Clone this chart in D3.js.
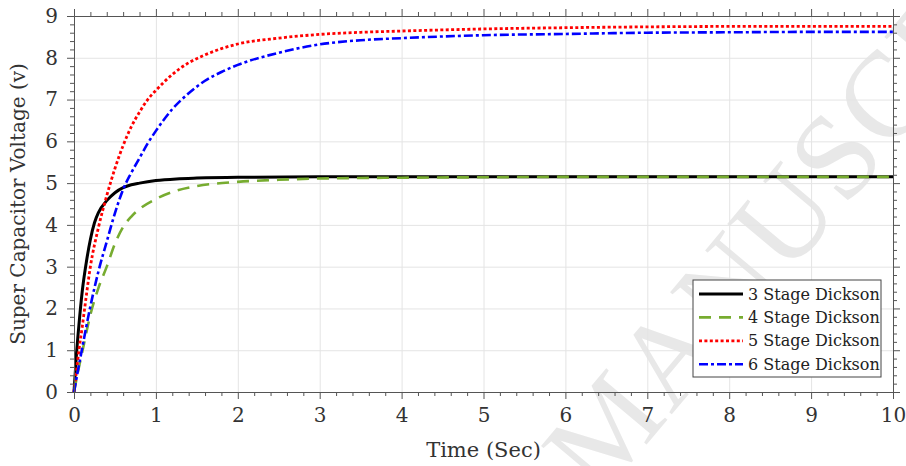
<!DOCTYPE html>
<html>
<head>
<meta charset="utf-8">
<script src="https://cdn.jsdelivr.net/npm/d3@7"></script>
<style>
  body { margin: 0; background: #fff; }
  svg text { font-family: "DejaVu Serif", serif; fill: #333; }
  .axis path { stroke: #555; }
  .axis line { stroke: #555; }
  .grid line { stroke: #e4e4e4; }
  .grid path { display: none; }
</style>
</head>
<body>
<svg class="chart"></svg>
<script>
var seriesNames = ['3 Stage Dickson', '4 Stage Dickson', '5 Stage Dickson', '6 Stage Dickson'];

var t3 = [0, 0.03, 0.06, 0.1, 0.15, 0.2, 0.25, 0.3, 0.4, 0.5, 0.6, 0.7, 0.8, 1.0, 1.25, 1.5, 2, 3, 4, 5, 6, 7, 8, 9, 10];
var v3 = [0, 0.9, 1.6, 2.4, 3.1, 3.65, 4.05, 4.3, 4.58, 4.77, 4.89, 4.96, 5.0, 5.06, 5.1, 5.12, 5.14, 5.15, 5.15, 5.15, 5.15, 5.15, 5.15, 5.15, 5.15];

var t4 = [0, 0.05, 0.1, 0.2, 0.3, 0.4, 0.5, 0.6, 0.7, 0.8, 1.0, 1.25, 1.5, 2, 2.5, 3, 4, 5, 6, 7, 8, 9, 10];
var v4 = [0, 0.5, 0.95, 1.85, 2.5, 3.0, 3.55, 3.95, 4.2, 4.38, 4.62, 4.82, 4.93, 5.03, 5.08, 5.11, 5.13, 5.14, 5.15, 5.15, 5.15, 5.15, 5.15];

var t5 = [0, 0.03, 0.06, 0.1, 0.13, 0.2, 0.3, 0.4, 0.5, 0.6, 0.7, 0.8, 0.9, 1.0, 1.2, 1.4, 1.6, 1.8, 2, 2.5, 3, 3.5, 4, 5, 6, 7, 8, 9, 10];
var v5 = [0, 0.5, 1.0, 1.55, 2.0, 3.0, 3.95, 4.7, 5.35, 5.9, 6.35, 6.7, 7.0, 7.22, 7.6, 7.88, 8.07, 8.22, 8.33, 8.47, 8.56, 8.61, 8.64, 8.69, 8.72, 8.74, 8.75, 8.75, 8.75];

var t6 = [0, 0.1, 0.2, 0.3, 0.4, 0.5, 0.6, 0.7, 0.8, 0.9, 1.0, 1.2, 1.4, 1.6, 1.8, 2.0, 2.5, 3, 3.5, 4, 5, 6, 7, 8, 9, 10];
var v6 = [0, 1.05, 2.05, 2.9, 3.6, 4.28, 4.85, 5.25, 5.6, 5.95, 6.25, 6.77, 7.15, 7.45, 7.66, 7.83, 8.12, 8.32, 8.42, 8.47, 8.54, 8.57, 8.6, 8.61, 8.62, 8.62];

var xTicks = [0, 1, 2, 3, 4, 5, 6, 7, 8, 9, 10];
var yTicks = [0, 1, 2, 3, 4, 5, 6, 7, 8, 9];

var styles = [
  {color: '#000000', width: 3, dash: null},
  {color: '#77ac30', width: 2.6, dash: '12,8'},
  {color: '#ff0000', width: 2.8, dash: '3,2.4'},
  {color: '#0000ff', width: 2.6, dash: '9,3,3,3'}
];

var series = [[t3, v3], [t4, v4], [t5, v5], [t6, v6]].map(function(s, i) {
  return {
    name: seriesNames[i],
    values: s[0].map(function(t, j) { return {t: t, v: s[1][j]}; })
  };
});

var W = 906, H = 466;
var margin = {top: 16, right: 13, bottom: 74, left: 74},
    width = W - margin.left - margin.right,
    height = H - margin.top - margin.bottom;

var svg = d3.select(".chart")
    .attr("width", W)
    .attr("height", H);

// watermark
svg.append("text")
    .attr("transform", "translate(600,500) rotate(-50)")
    .style("font-family", "'Liberation Serif', serif")
    .style("font-size", "122px")
    .style("fill", "#e8e8e8")
    .style("letter-spacing", "2px")
    .text("MANUSCRIPT");

var chart = svg.append("g")
    .attr("transform", "translate(" + margin.left + "," + margin.top + ")");

var x = d3.scaleLinear().domain([0, 10]).range([0, width]);
var y = d3.scaleLinear().domain([0, 9]).range([height, 0]);

var minorX = d3.range(0, 50).map(function(i) { return i * 0.2; }).filter(function(d, i) { return i % 5 !== 0; });
var minorY = d3.range(0, 45).map(function(i) { return i * 0.2; }).filter(function(d, i) { return i % 5 !== 0; });

// grid
chart.append("g")
    .attr("class", "grid")
    .attr("transform", "translate(0," + height + ")")
    .call(d3.axisBottom(x).tickValues(xTicks.slice(1, -1)).tickSize(-height).tickFormat(""));
chart.append("g")
    .attr("class", "grid")
    .call(d3.axisLeft(y).tickValues(yTicks.slice(1, -1)).tickSize(-width).tickFormat(""));

// lines
var line = d3.line()
    .x(function(d) { return x(d.t); })
    .y(function(d) { return y(d.v); })
    .curve(d3.curveMonotoneX);

chart.selectAll("path.series")
    .data(series)
  .enter().append("path")
    .attr("class", "series")
    .attr("fill", "none")
    .attr("d", function(d) { return line(d.values); })
    .attr("stroke", function(d, i) { return styles[i].color; })
    .attr("stroke-width", function(d, i) { return styles[i].width; })
    .attr("stroke-dasharray", function(d, i) { return styles[i].dash; });

// axes, ticks outward on all four sides
function addAxis(gen, tr, vals, minor, size, minorSize, labels) {
  var g = chart.append("g").attr("class", "axis").attr("transform", tr);
  g.call(gen.tickValues(minor).tickSize(minorSize).tickSizeOuter(0).tickFormat(""));
  var g2 = chart.append("g").attr("class", "axis").attr("transform", tr);
  var a = gen.tickValues(vals).tickSize(size).tickSizeOuter(0).tickPadding(9);
  a.tickFormat(labels ? d3.format("d") : "");
  g2.call(a);
  g2.selectAll("text").style("font-size", "20px").style("fill", "#333");
  return g2;
}
addAxis(d3.axisBottom(x), "translate(0," + height + ")", xTicks, minorX, 7, 4, true);
addAxis(d3.axisTop(x), "translate(0,0)", xTicks, minorX, 7, 4, false);
addAxis(d3.axisLeft(y), "translate(0,0)", yTicks, minorY, 7, 4, true);
addAxis(d3.axisRight(y), "translate(" + width + ",0)", yTicks, minorY, 7, 4, false);

// axis titles
svg.append("text")
    .attr("x", margin.left + width / 2)
    .attr("y", 457)
    .attr("text-anchor", "middle")
    .style("font-size", "21px")
    .text("Time (Sec)");

svg.append("text")
    .attr("transform", "translate(25," + (margin.top + height / 2) + ") rotate(-90)")
    .attr("text-anchor", "middle")
    .style("font-size", "20px")
    .text("Super Capacitor Voltage (v)");

// legend
var legend = svg.append("g").attr("transform", "translate(693,280)");
legend.append("rect")
    .attr("width", 188)
    .attr("height", 97)
    .attr("fill", "#fff")
    .attr("stroke", "#444")
    .attr("stroke-width", 1);

var item = legend.selectAll("g.item")
    .data(series)
  .enter().append("g")
    .attr("class", "item")
    .attr("transform", function(d, i) { return "translate(0," + (14 + i * 23.4) + ")"; });

item.append("line")
    .attr("x1", 6).attr("x2", 50)
    .attr("stroke", function(d, i) { return styles[i].color; })
    .attr("stroke-width", function(d, i) { return styles[i].width; })
    .attr("stroke-dasharray", function(d, i) { return styles[i].dash; });

item.append("text")
    .attr("x", 55)
    .attr("dy", "0.35em")
    .style("font-size", "16px")
    .style("fill", "#222")
    .text(function(d) { return d.name; });
</script>
</body>
</html>
